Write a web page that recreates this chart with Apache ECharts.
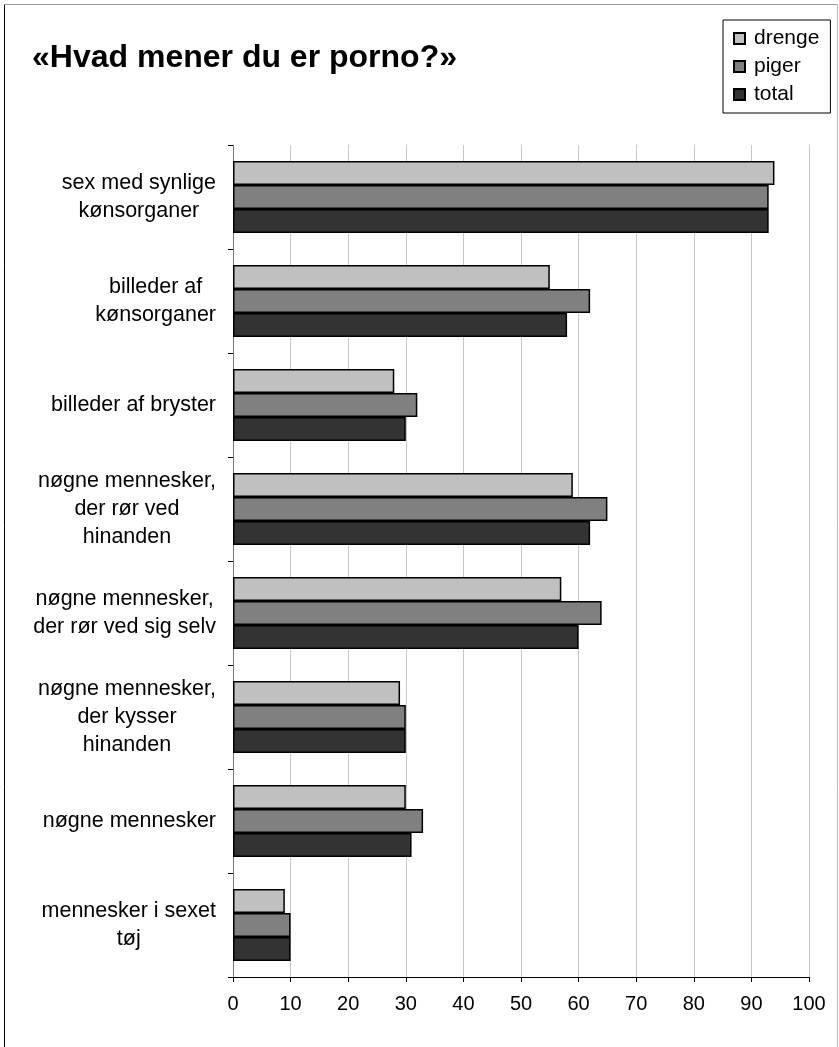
<!DOCTYPE html>
<html>
<head>
<meta charset="utf-8">
<script src="https://cdn.jsdelivr.net/npm/echarts@6/dist/echarts.min.js"></script>
<style>
  html, body { margin: 0; padding: 0; background: #fff; }
  #chart { width: 839px; height: 1047px; }
</style>
</head>
<body>
<div id="chart"></div>
<script>
// kategorier (top til bund)
const categories = [
  "sex med synlige\nkønsorganer",
  "billeder af\nkønsorganer",
  "billeder af bryster",
  "nøgne mennesker,\nder rør ved\nhinanden",
  "nøgne mennesker,\nder rør ved sig selv",
  "nøgne mennesker,\nder kysser\nhinanden",
  "nøgne mennesker",
  "mennesker i sexet\ntøj"
];
const drenge = [94, 55, 28, 59, 57, 29, 30, 9];
const piger = [93, 62, 32, 65, 64, 30, 33, 10];
const total = [93, 58, 30, 62, 60, 30, 31, 10];
const xTicks = [0, 10, 20, 30, 40, 50, 60, 70, 80, 90, 100];

const FONT = "'Liberation Sans', Arial, sans-serif";

let myChart = echarts.init(document.getElementById("chart"));

function barSeries(name, data, color) {
  return {
    name: name,
    type: "bar",
    data: data,
    barGap: "0%",
    barCategoryGap: "31%",
    itemStyle: {
      color: color,
      borderColor: "#000",
      borderWidth: 1.5,
    },
  };
}

let option = {
  backgroundColor: "#fff",
  animation: false,
  textStyle: { fontFamily: FONT },
  title: {
    text: "«Hvad mener du er porno?»",
    left: 32,
    top: 42,
    padding: 0,
    textStyle: {
      fontFamily: FONT,
      fontSize: 32,
      fontWeight: "bold",
      color: "#000",
    },
  },
  legend: {
    orient: "vertical",
    left: 723,
    top: 20,
    padding: [8, 11, 8, 10],
    itemGap: 7,
    itemWidth: 11,
    itemHeight: 11,
    borderColor: "#000",
    borderWidth: 1,
    icon: "rect",
    textStyle: {
      fontFamily: FONT,
      fontSize: 21,
      color: "#000",
      padding: [0, 0, 0, 4],
    },
    data: ["drenge", "piger", "total"],
  },
  grid: {
    left: 233,
    right: 30,
    top: 145,
    bottom: 70,
    containLabel: false,
  },
  xAxis: {
    type: "value",
    min: xTicks[0],
    max: xTicks[xTicks.length - 1],
    interval: 10,
    axisLine: { show: true, lineStyle: { color: "#000", width: 1 } },
    axisTick: { show: true, length: 5, lineStyle: { color: "#000" } },
    axisLabel: {
      fontFamily: FONT,
      fontSize: 20,
      color: "#000",
      margin: 17,
    },
    splitLine: { show: true, lineStyle: { color: "#c8c8c8", width: 1 } },
  },
  yAxis: {
    type: "category",
    data: categories,
    inverse: true,
    axisLine: { show: true, lineStyle: { color: "#777", width: 1 } },
    axisTick: { show: true, length: 5, lineStyle: { color: "#000" } },
    axisLabel: {
      margin: 17,
      color: "#000",
      fontFamily: FONT,
      fontSize: 21.5,
      lineHeight: 28,
      formatter: function (v) {
        return v.split("\n").map((l) => "{c|" + l + "}").join("\n");
      },
      rich: {
        c: {
          align: "center",
          fontFamily: FONT,
          fontSize: 21.5,
          lineHeight: 28,
          color: "#000",
        },
      },
    },
    splitLine: { show: false },
  },
  graphic: [
    { type: "line", shape: { x1: 4.5, y1: 4.5, x2: 4.5, y2: 1047 }, style: { stroke: "#000", lineWidth: 1 } },
    { type: "line", shape: { x1: 4.5, y1: 4.5, x2: 837.5, y2: 4.5 }, style: { stroke: "#999", lineWidth: 1 } },
    { type: "line", shape: { x1: 837.5, y1: 4.5, x2: 837.5, y2: 1047 }, style: { stroke: "#bbb", lineWidth: 1 } },
  ],
  series: [
    barSeries("drenge", drenge, "#c0c0c0"),
    barSeries("piger", piger, "#808080"),
    barSeries("total", total, "#333333"),
  ],
};

option && myChart.setOption(option);
</script>
</body>
</html>
